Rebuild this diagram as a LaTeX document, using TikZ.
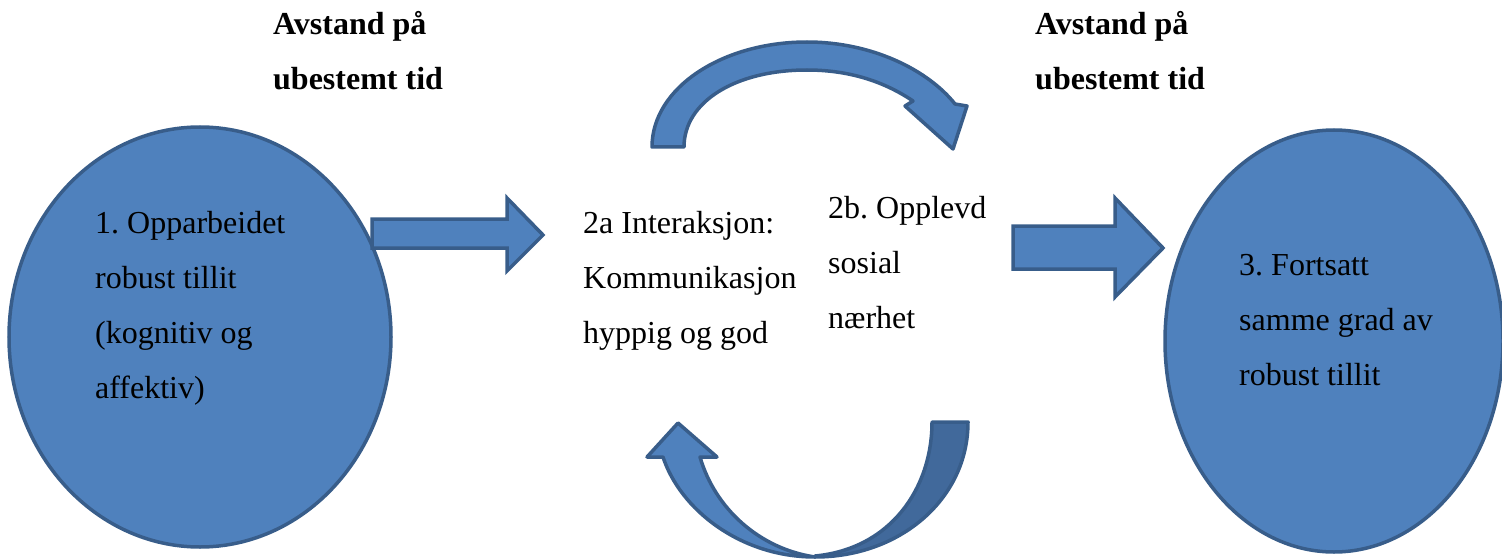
\documentclass[tikz,border=0pt]{standalone}
\usepackage{fontspec}
\setmainfont{Liberation Serif}
\usetikzlibrary{shapes.geometric}
\definecolor{shapeblue}{HTML}{4F81BD}
\definecolor{edgeblue}{HTML}{385D8A}
\definecolor{backblue}{HTML}{41699B}
\frenchspacing

\begin{document}
\begin{tikzpicture}[x=1pt,y=-1pt,
    blk/.style={fill=shapeblue,draw=edgeblue,line width=3.5pt},
    txt/.style={anchor=base west,inner sep=0pt,align=left,font=\fontsize{32}{55}\selectfont},
    head/.style={txt,font=\fontsize{32}{55}\selectfont\bfseries}]
  \useasboundingbox (0,0) rectangle (1502,559);
  % the two ellipses
  \node[blk,ellipse,inner sep=0pt,minimum width=382pt,minimum height=420pt] (trust) at (200,337) {};
  \node[blk,ellipse,inner sep=0pt,minimum width=338pt,minimum height=422pt] (result) at (1334,341) {};
  % straight block arrows
  \draw[blk] (372,219) -- (507,219) -- (507,198) -- (543,235) -- (507,271) -- (507,248) -- (372,248) -- cycle;
  \draw[blk] (1013,226) -- (1115,226) -- (1115,198) -- (1163,248) -- (1115,297) -- (1115,269) -- (1013,269) -- cycle;
  % upper curved arrow
  \draw[blk,line join=round] (652,147) .. controls (652,88) and (722,42) .. (807,42)
    .. controls (872,42) and (928,70) .. (955,104) -- (967,106) -- (953,149) -- (905,106) -- (913,101)
    .. controls (885,82) and (850,70) .. (807,70) .. controls (735,70) and (684,102) .. (684,147) -- cycle;
  % lower curved arrow, back half darker
  \draw[blk,fill=backblue,line join=round] (815,557) .. controls (900,557) and (968,499) .. (968,422)
    -- (932,422) .. controls (932,489) and (890,549) .. (815,556) -- cycle;
  \draw[blk,line join=round] (663,457) .. controls (680,509) and (740,557) .. (815,557)
    .. controls (760,549) and (715,509) .. (700,457) -- (717,457) -- (678,423) -- (647,457) -- cycle;
  % texts (anchored at the baseline of the last line)
  \node[head] (gapA) at (273,90) {Avstand på\\ubestemt tid};
  \node[head] (gapB) at (1035,90) {Avstand på\\ubestemt tid};
  \node[txt] (trustText) at (95,398) {1. Opparbeidet\\robust tillit\\(kognitiv og\\affektiv)};
  \node[txt] (talk) at (583,343) {2a Interaksjon:\\Kommunikasjon\\hyppig og god};
  \node[txt] (near) at (828,328) {2b. Opplevd\\sosial\\nærhet};
  \node[txt] (resultText) at (1239,385) {3. Fortsatt\\samme grad av\\robust tillit};
\end{tikzpicture}
\end{document}
